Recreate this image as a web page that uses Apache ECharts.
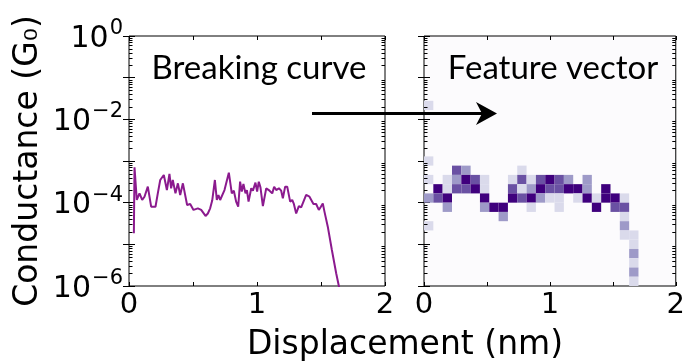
<!DOCTYPE html>
<html><head><meta charset="utf-8">
<script src="https://cdn.jsdelivr.net/npm/echarts@6/dist/echarts.min.js"></script>
<style>html,body{margin:0;padding:0;background:#fff}#c{width:688px;height:363px}</style>
</head><body><div id="c"></div>
<script>
// ---- data ----
const curveX = [0.038,0.043,0.061,0.082,0.103,0.121,0.147,0.173,0.207,0.225,0.244,0.272,0.296,0.316,0.329,0.342,0.363,0.382,0.400,0.421,0.436,0.454,0.478,0.504,0.538,0.564,0.598,0.616,0.634,0.650,0.671,0.686,0.699,0.712,0.746,0.780,0.803,0.819,0.837,0.853,0.868,0.881,0.894,0.910,0.921,0.934,0.955,0.968,0.988,1.001,1.014,1.027,1.046,1.072,1.098,1.119,1.134,1.150,1.171,1.189,1.202,1.220,1.236,1.259,1.275,1.288,1.306,1.327,1.345,1.363,1.384,1.410,1.441,1.462,1.483,1.499,1.514,1.527,1.553,1.585,1.619,1.650];
const curveG = [1.84e-5,7.05e-4,1.16e-4,1.67e-4,1.16e-4,1.39e-4,2.42e-4,8.0e-5,8.0e-5,1.67e-4,3.5e-4,4.61e-4,2.01e-4,4.88e-4,2.21e-4,3.5e-4,1.67e-4,2.91e-4,1.53e-4,2.91e-4,2.65e-4,8.8e-5,9.3e-5,6.7e-5,7.3e-5,6.7e-5,4.8e-5,5.5e-5,7.3e-5,1.12e-4,3.5e-4,1.16e-4,1.53e-4,1.16e-4,2.01e-4,5.25e-4,1.67e-4,1.94e-4,1.06e-4,8.0e-5,3.19e-4,1.84e-4,2.81e-4,1.67e-4,2.01e-4,1.06e-4,2.21e-4,1.94e-4,3.02e-4,1.84e-4,3.19e-4,2.33e-4,8.3e-5,2.21e-4,1.94e-4,1.67e-4,2.42e-4,2.01e-4,2.21e-4,1.94e-4,1.27e-4,2.42e-4,2.42e-4,1.06e-4,1.16e-4,9.3e-5,5.5e-5,8.3e-5,7.7e-5,1.06e-4,1.53e-4,1.39e-4,9.3e-5,9.3e-5,6.7e-5,8.0e-5,9.6e-5,6.1e-5,2.65e-5,7.3e-6,2.0e-6,7.0e-7];
// feature vector: [column, row (from bottom), intensity level 1..4], 27 x 27 bins
const heatCells = [
 [0,19,1],[0,13,1],
 [3,12,3],[4,12,2],[10,12,1],
 [0,11,1],[2,11,1],[3,11,2],[4,11,4],[5,11,3],[6,11,1],[9,11,1],[10,11,3],[11,11,1],[12,11,3],[13,11,4],[14,11,3],[15,11,2],[17,11,2],
 [1,10,4],[2,10,1],[3,10,3],[4,10,3],[5,10,4],[6,10,1],[9,10,3],[10,10,1],[11,10,2],[12,10,4],[13,10,3],[14,10,3],[15,10,4],[16,10,4],[17,10,2],[19,10,4],
 [0,9,2],[1,9,3],[2,9,4],[6,9,4],[9,9,4],[10,9,3],[11,9,4],[12,9,2],[13,9,1],[14,9,1],[16,9,1],[17,9,4],[18,9,1],[19,9,4],[20,9,4],[21,9,1],
 [2,8,2],[6,8,2],[7,8,4],[8,8,4],[11,8,1],[14,8,1],[18,8,4],[20,8,3],[21,8,3],
 [8,7,2],[21,7,1],
 [0,6,1],[21,6,2],
 [21,5,1],[22,5,1],
 [22,4,1],[22,3,2],[22,2,1],[22,1,2],[22,0,1]
];
const heatCols = 27, heatRows = 27;
const xRange = [0, 2];
const yExpRange = [-6, 0];
const xTickLabels = ['0', '1', '2'];
const yLabelExponents = [0, -2, -4, -6];
const panelTitles = ['Breaking curve', 'Feature vector'];
const xName = 'Displacement (nm)';
const yName = 'Conductance (G\u2080)';

// ---- styles ----
const purples = ['#fcfbfd', '#dadaeb', '#9e9ac8', '#6a51a3', '#3f007d'];
const tickFont = 'DejaVu Sans';

const chart = echarts.init(document.getElementById('c'), null, {renderer: 'canvas'});

function xAxisDef(grid, pos, showLabels) {
  return {
    type: 'value', gridIndex: grid, position: pos, min: xRange[0], max: xRange[1], interval: 0.5,
    axisLine: {show: false}, splitLine: {show: false},
    axisTick: {show: true, inside: true, length: 4, lineStyle: {color: '#000', width: 1}},
    axisLabel: {show: showLabels, margin: 5, fontFamily: tickFont, fontSize: 29, color: '#000',
      formatter: v => { const i = Math.round(v); return Math.abs(v - i) < 1e-9 ? xTickLabels[i] : ''; }}
  };
}
function yAxisDef(grid, pos, showLabels) {
  return {
    type: 'log', logBase: 10, gridIndex: grid, position: pos, min: Math.pow(10, yExpRange[0]), max: Math.pow(10, yExpRange[1]),
    splitNumber: 6,
    axisLine: {show: false}, splitLine: {show: false},
    axisTick: {show: true, inside: true, length: 6, lineStyle: {color: '#000', width: 1}},
    axisLabel: {show: showLabels, margin: 6, color: '#000',
      formatter: v => { const e = Math.round(Math.log10(v)); return yLabelExponents.indexOf(e) >= 0 ? '{b|10}{s|' + (e < 0 ? '\u2212' + (-e) : e) + '}' : ''; },
      rich: {
        b: {fontFamily: tickFont, fontSize: 30, color: '#000', lineHeight: 36, verticalAlign: 'bottom'},
        s: {fontFamily: tickFont, fontSize: 21, color: '#000', lineHeight: 36, verticalAlign: 'top', padding: [0, 0, 0, 1]}
      }}
  };
}

const option = {
  animation: false,
  backgroundColor: '#fff',
  grid: [
    {left: 129, top: 36, width: 256, height: 250, show: true, backgroundColor: '#fff', borderColor: '#000', borderWidth: 1},
    {left: 424, top: 36, width: 257, height: 250, show: true, backgroundColor: purples[0], borderColor: '#000', borderWidth: 1}
  ],
  xAxis: [xAxisDef(0, 'bottom', true), xAxisDef(0, 'top', false), xAxisDef(1, 'bottom', true), xAxisDef(1, 'top', false)],
  yAxis: [yAxisDef(0, 'left', true), yAxisDef(0, 'right', false), yAxisDef(1, 'left', false), yAxisDef(1, 'right', false)],
  series: [
    {
      type: 'line', xAxisIndex: 0, yAxisIndex: 0, showSymbol: false, clip: true,
      data: curveX.map((x, i) => [x, curveG[i]]),
      lineStyle: {color: '#8b1a8e', width: 2}, z: 3
    },
    {
      type: 'custom', xAxisIndex: 2, yAxisIndex: 2, clip: true, z: 2,
      data: heatCells,
      renderItem: (params, api) => {
        const c = api.value(0), r = api.value(1), lvl = api.value(2);
        const bw = (xRange[1] - xRange[0]) / heatCols, bh = (yExpRange[1] - yExpRange[0]) / heatRows;
        const p0 = api.coord([xRange[0] + c * bw, Math.pow(10, yExpRange[0] + r * bh)]);
        const p1 = api.coord([xRange[0] + (c + 1) * bw, Math.pow(10, yExpRange[0] + (r + 1) * bh)]);
        return {type: 'rect', shape: {x: p0[0], y: p1[1], width: p1[0] - p0[0], height: p0[1] - p1[1]},
          style: {fill: purples[lvl]}};
      }
    }
  ]
};
chart.setOption(option);

// minor log ticks + annotations
const g = [];
for (let gi = 0; gi < 2; gi++) {
  for (let d = yExpRange[0]; d < yExpRange[1]; d++) {
    for (let k = 2; k <= 9; k++) {
      const v = k * Math.pow(10, d);
      const pl = chart.convertToPixel({xAxisIndex: gi * 2, yAxisIndex: gi * 2}, [xRange[0], v]);
      const pr = chart.convertToPixel({xAxisIndex: gi * 2, yAxisIndex: gi * 2}, [xRange[1], v]);
      const y = Math.round(pl[1]) + 0.5;
      g.push({type: 'line', shape: {x1: pl[0], y1: y, x2: pl[0] + 3.5, y2: y}, style: {stroke: '#000', lineWidth: 1}, z: 10});
      g.push({type: 'line', shape: {x1: pr[0], y1: y, x2: pr[0] - 3.5, y2: y}, style: {stroke: '#000', lineWidth: 1}, z: 10});
    }
  }
}
g.push({type: 'text', x: 259, y: 68, z: 20, style: {text: panelTitles[0], font: '33px Lato', fill: '#000', align: 'center', verticalAlign: 'middle'}});
g.push({type: 'text', x: 553, y: 68, z: 20, style: {text: panelTitles[1], font: '33px Lato', fill: '#000', align: 'center', verticalAlign: 'middle'}});
g.push({type: 'text', x: 405, y: 345, z: 20, style: {text: xName, font: '33px "DejaVu Sans"', fill: '#000', align: 'center', verticalAlign: 'middle'}});
g.push({type: 'text', x: 28, y: 161, rotation: Math.PI / 2, z: 20, style: {text: yName, font: '33px "DejaVu Sans"', fill: '#000', align: 'center', verticalAlign: 'middle'}});
g.push({type: 'line', z: 30, shape: {x1: 312, y1: 113.5, x2: 484, y2: 113.5}, style: {stroke: '#000', lineWidth: 3}});
g.push({type: 'polygon', z: 30, shape: {points: [[476, 102], [497, 113.5], [476, 125], [482, 113.5]]}, style: {fill: '#000'}});
chart.setOption({graphic: g});
</script>
</body></html>
